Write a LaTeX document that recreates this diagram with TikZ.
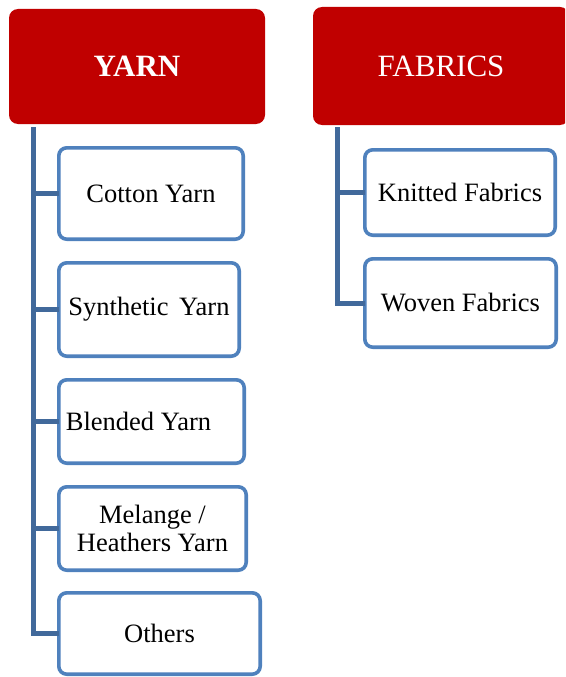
\documentclass[tikz,border=0pt]{standalone}
\usepackage{fontspec}
\setmainfont{Liberation Serif}
\definecolor{hdrred}{HTML}{C00000}
\definecolor{boxblue}{HTML}{4F81BD}
\definecolor{connblue}{HTML}{41699B}
\begin{document}
\begin{tikzpicture}[x=1pt,y=-1pt,
  hdr/.style={fill=hdrred,draw=none,rounded corners=9pt,inner sep=0pt,outer sep=0pt,
    text=white,font=\fontsize{31}{33}\selectfont},
  item/.style={draw=boxblue,line width=3.6pt,fill=white,rounded corners=8pt,inner sep=0pt,outer sep=0pt,
    text=black,font=\fontsize{26.5}{27.5}\selectfont,align=center},
  conn/.style={draw=connblue,line width=5pt}]
\useasboundingbox (0,0) rectangle (565,677);
\clip (0,0) rectangle (565,677);
% headers
\node[hdr,minimum width=256pt,minimum height=115pt] (yarn) at (137,66.5) {\textbf{YARN}};
\node[hdr,minimum width=256pt,minimum height=118pt] (fabrics) at (441,66) {FABRICS};
% yarn items
\node[item,minimum width=184.4pt,minimum height=91.4pt] (cotton) at (151,193.5) {Cotton Yarn};
\node[item,minimum width=180.4pt,minimum height=93.4pt] (synth) at (149,309.5) {Synthetic\hspace{0.15em} Yarn};
\node[item,minimum width=185.4pt,minimum height=83.4pt] (blend) at (151.5,421.5) {Blended Yarn\hspace*{26pt}};
\node[item,minimum width=187.4pt,minimum height=83.4pt] (melange) at (152.5,528.5) {Melange /\\Heathers Yarn};
\node[item,minimum width=201.4pt,minimum height=81.4pt] (others) at (159.5,633.5) {Others};
% fabric items
\node[item,minimum width=190.4pt,minimum height=85.4pt] (knit) at (460,192.5) {Knitted Fabrics};
\node[item,minimum width=191.4pt,minimum height=88.4pt] (woven) at (460.5,303) {Woven Fabrics};
% trunks
\coordinate (ytop) at (33,127);
\coordinate (ftop) at (337,127);
\draw[conn] (ytop) |- (others.west);
\draw[conn] (cotton.west) -- (cotton.west -| ytop);
\draw[conn] (synth.west) -- (synth.west -| ytop);
\draw[conn] (blend.west) -- (blend.west -| ytop);
\draw[conn] (melange.west) -- (melange.west -| ytop);
\draw[conn] (ftop) |- (woven.west);
\draw[conn] (knit.west) -- (knit.west -| ftop);
\end{tikzpicture}
\end{document}
